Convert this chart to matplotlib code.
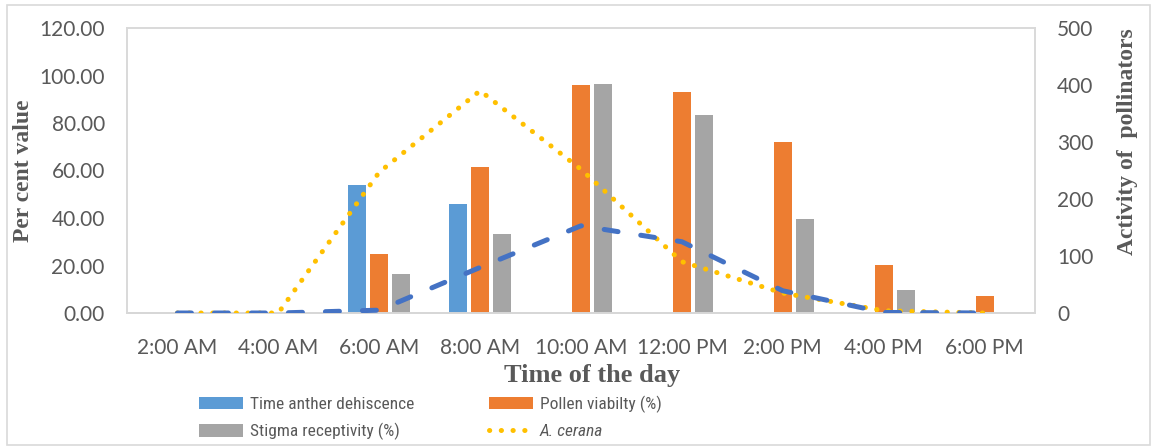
import matplotlib
matplotlib.use("Agg")
import matplotlib.pyplot as plt
import numpy as np
from matplotlib.patches import Rectangle

# time slots and measured values
times = ["2:00 AM", "4:00 AM", "6:00 AM", "8:00 AM", "10:00 AM",
         "12:00 PM", "2:00 PM", "4:00 PM", "6:00 PM"]
anther_dehiscence = [0, 0, 54, 46, 0, 0, 0, 0, 0]
pollen_viability = [0, 0, 25, 61.5, 96, 93, 72, 20.2, 7.3]
stigma_receptivity = [0, 0, 16.4, 33.2, 96.5, 83.2, 39.6, 9.8, 0]
a_cerana = [0, 0, 247, 390, 252, 90, 35, 4, 0]
other_visitor = [0, 0, 5, 80, 153, 125, 39, 1, 0]

tick_font = ["Lato", "DejaVu Sans"]
legend_font = ["Roboto Condensed", "Lato", "DejaVu Sans"]
title_font = ["Liberation Serif", "DejaVu Serif"]
grey_txt = "#595959"

fig = plt.figure(figsize=(11.57, 4.47), dpi=100)
ax = fig.add_axes([127 / 1157, 1 - 313 / 447, (1035 - 127) / 1157, (313 - 28) / 447])
ax2 = ax.twinx()

x = np.arange(len(times))
w = 0.178
step = 0.22
ax.bar(x - step, anther_dehiscence, w, color="#5B9BD5", label="Time anther dehiscence", zorder=2)
ax.bar(x, pollen_viability, w, color="#ED7D31", label="Pollen viabilty (%)", zorder=2)
ax.bar(x + step, stigma_receptivity, w, color="#A5A5A5", label="Stigma receptivity (%)", zorder=2)

ax2.plot(x, a_cerana, color="#FFC000", lw=3.6, linestyle=(0, (0.05, 2.3)),
         dash_capstyle="round", label="A. cerana", zorder=3)
ax2.plot(x, other_visitor, color="#4472C4", lw=3.6, linestyle=(0, (2.8, 4.6)),
         dash_capstyle="round", zorder=3)

ax.set_xlim(-0.5, len(times) - 0.5)
ax.set_ylim(0, 120)
ax2.set_ylim(0, 500)
ax.set_yticks(np.arange(0, 121, 20))
ax.set_yticklabels([f"{v:.2f}" for v in np.arange(0, 121, 20)])
ax2.set_yticks(np.arange(0, 501, 100))
ax.set_xticks(x)
ax.set_xticklabels(times)

for a in (ax, ax2):
    for s in a.spines.values():
        s.set_color("#D9D9D9")
        s.set_linewidth(1.2)
    a.tick_params(length=0, labelsize=15, labelcolor=grey_txt)
    for lab in a.get_xticklabels() + a.get_yticklabels():
        lab.set_family(tick_font)
ax.spines["bottom"].set_color("#C8C8C8")
ax.tick_params(axis="y", pad=16)
ax.tick_params(axis="x", pad=18)
ax2.tick_params(axis="y", pad=16)

ax.set_ylabel("Per cent value", family=title_font, fontweight="bold",
              fontsize=17, color=grey_txt)
ax.yaxis.set_label_coords(-0.1024, 0.498)
ax2.set_ylabel("Activity of  pollinators", family=title_font, fontweight="bold",
               fontsize=17, color=grey_txt)
ax2.yaxis.set_label_coords(1.0903, 0.60)
ax.set_xlabel("Time of the day", family=title_font, fontweight="bold",
              fontsize=19, color=grey_txt)
ax.xaxis.set_label_coords(0.512, -0.18)

h1, l1 = ax.get_legend_handles_labels()
h2, l2 = ax2.get_legend_handles_labels()
handles = [h1[0], h1[2], h1[1], h2[0]]
labels = [l1[0], l1[2], l1[1], l2[0]]
leg = fig.legend(handles, labels, ncol=2, loc="center left",
                 bbox_to_anchor=(192 / 1157, 1 - 418 / 447), frameon=False,
                 prop={"family": legend_font, "size": 12.5},
                 handlelength=2.56, handleheight=0.75, handletextpad=0.37,
                 columnspacing=4.3, labelspacing=0.64, borderaxespad=0.0)
for t in leg.get_texts():
    t.set_color(grey_txt)
leg.get_texts()[3].set_style("italic")

fig.patches.append(Rectangle((7 / 1157, 2 / 447), 1143 / 1157, 440 / 447,
                             transform=fig.transFigure, fill=False,
                             edgecolor="#D9D9D9", lw=1.2))

fig.savefig("out.png", dpi=100)
